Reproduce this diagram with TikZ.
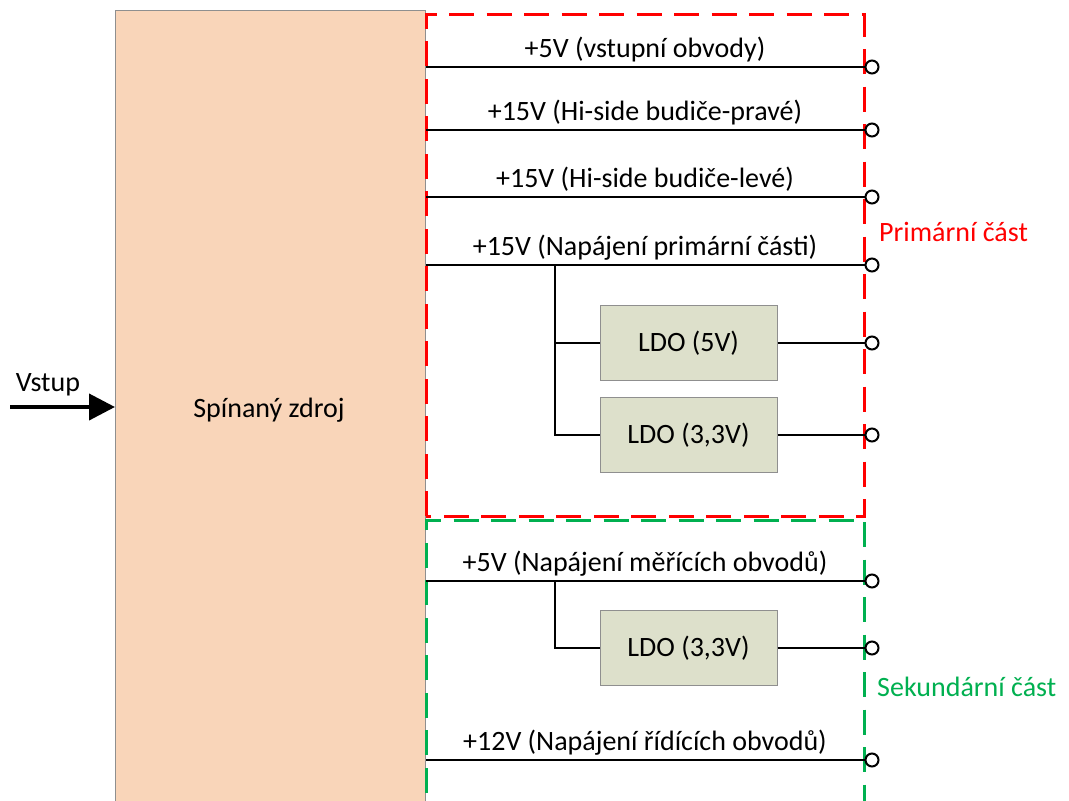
\documentclass[tikz,border=0pt]{standalone}
\usepackage{fontspec}
\setmainfont{Carlito}
\usetikzlibrary{arrows.meta}
\definecolor{peach}{HTML}{F9D5B9}
\definecolor{ldofill}{HTML}{DDE0CB}
\definecolor{boxedge}{HTML}{8F8F8F}
\definecolor{prired}{HTML}{FF0000}
\definecolor{secgreen}{HTML}{00B050}
\tikzset{
  txt/.style={font=\fontsize{28}{32}\selectfont, inner sep=0pt, anchor=base},
  wire/.style={line width=2.8pt, black},
  term/.style={circle, draw=black, line width=2pt, fill=white, minimum size=13pt, inner sep=0pt},
  ldo/.style={draw=boxedge, line width=1pt, fill=ldofill, minimum width=177pt, minimum height=75pt, inner sep=0pt, font=\fontsize{28}{32}\selectfont},
  zone/.style={line width=3pt, dash pattern=on 25pt off 12.5pt},
}
\begin{document}
\begin{tikzpicture}[x=1pt,y=-1pt]
\clip (0,0) rectangle (1069,801);
\fill[white] (0,0) rectangle (1069,801);
% main supply box
\node[draw=boxedge, line width=1pt, fill=peach, minimum width=310pt, minimum height=830pt, inner sep=0pt, anchor=north west] (psu) at (115,10) {};
\node[txt] (psulabel) at (269,417) {Spínaný zdroj};
% input
\coordinate (vin) at (10,407);
\draw[line width=4pt, -{Triangle[length=26pt,width=26pt]}] (vin) -- (psu.west |- vin);
\node[txt] (vstup) at (48,391) {Vstup};
% zones
\draw[zone, prired] (426,516) -- (426,14) -- (864,14) -- (864,516) -- cycle;
\draw[zone, secgreen] (426,830) -- (426,520) -- (864,520) -- (864,830);
\node[txt, prired, anchor=base west] (prilabel) at (879,241) {Primární část};
\node[txt, secgreen, anchor=base west] (seclabel) at (877,696) {Sekundární část};
% terminals
\node[term] (t1) at (872,67) {};
\node[term] (t2) at (872,130) {};
\node[term] (t3) at (872,197) {};
\node[term] (t4) at (872,265) {};
\node[term] (t5) at (872,343) {};
\node[term] (t6) at (872,435) {};
\node[term] (t7) at (872,581) {};
\node[term] (t8) at (872,648) {};
\node[term] (t9) at (872,760) {};
% LDO boxes
\node[ldo] (ldo1) at (688.5,343) {LDO (5V)};
\node[ldo] (ldo2) at (688.5,435) {LDO (3,3V)};
\node[ldo] (ldo3) at (688.5,648) {LDO (3,3V)};
% primary wires
\draw[wire] (psu.east |- t1) -- (t1.west);
\draw[wire] (psu.east |- t2) -- (t2.west);
\draw[wire] (psu.east |- t3) -- (t3.west);
\draw[wire] (psu.east |- t4) -- (t4.west);
\node[txt] (l1) at (645,57) {+5V (vstupní obvody)};
\node[txt] (l2) at (645,120) {+15V (Hi-side budiče-pravé)};
\node[txt] (l3) at (645,187) {+15V (Hi-side budiče-levé)};
\node[txt] (l4) at (645,255) {+15V (Napájení primární části)};
\coordinate (j1) at (555,265);
\draw[wire] (j1) -- (j1 |- ldo2) -- (ldo2.west);
\draw[wire] (j1 |- ldo1) -- (ldo1.west);
\draw[wire] (ldo1.east) -- (t5.west);
\draw[wire] (ldo2.east) -- (t6.west);
% secondary wires
\draw[wire] (psu.east |- t7) -- (t7.west);
\node[txt] (l7) at (645,571) {+5V (Napájení měřících obvodů)};
\coordinate (j2) at (555,581);
\draw[wire] (j2) -- (j2 |- ldo3) -- (ldo3.west);
\draw[wire] (ldo3.east) -- (t8.west);
\draw[wire] (psu.east |- t9) -- (t9.west);
\node[txt] (l9) at (645,750) {+12V (Napájení řídících obvodů)};
\end{tikzpicture}
\end{document}
